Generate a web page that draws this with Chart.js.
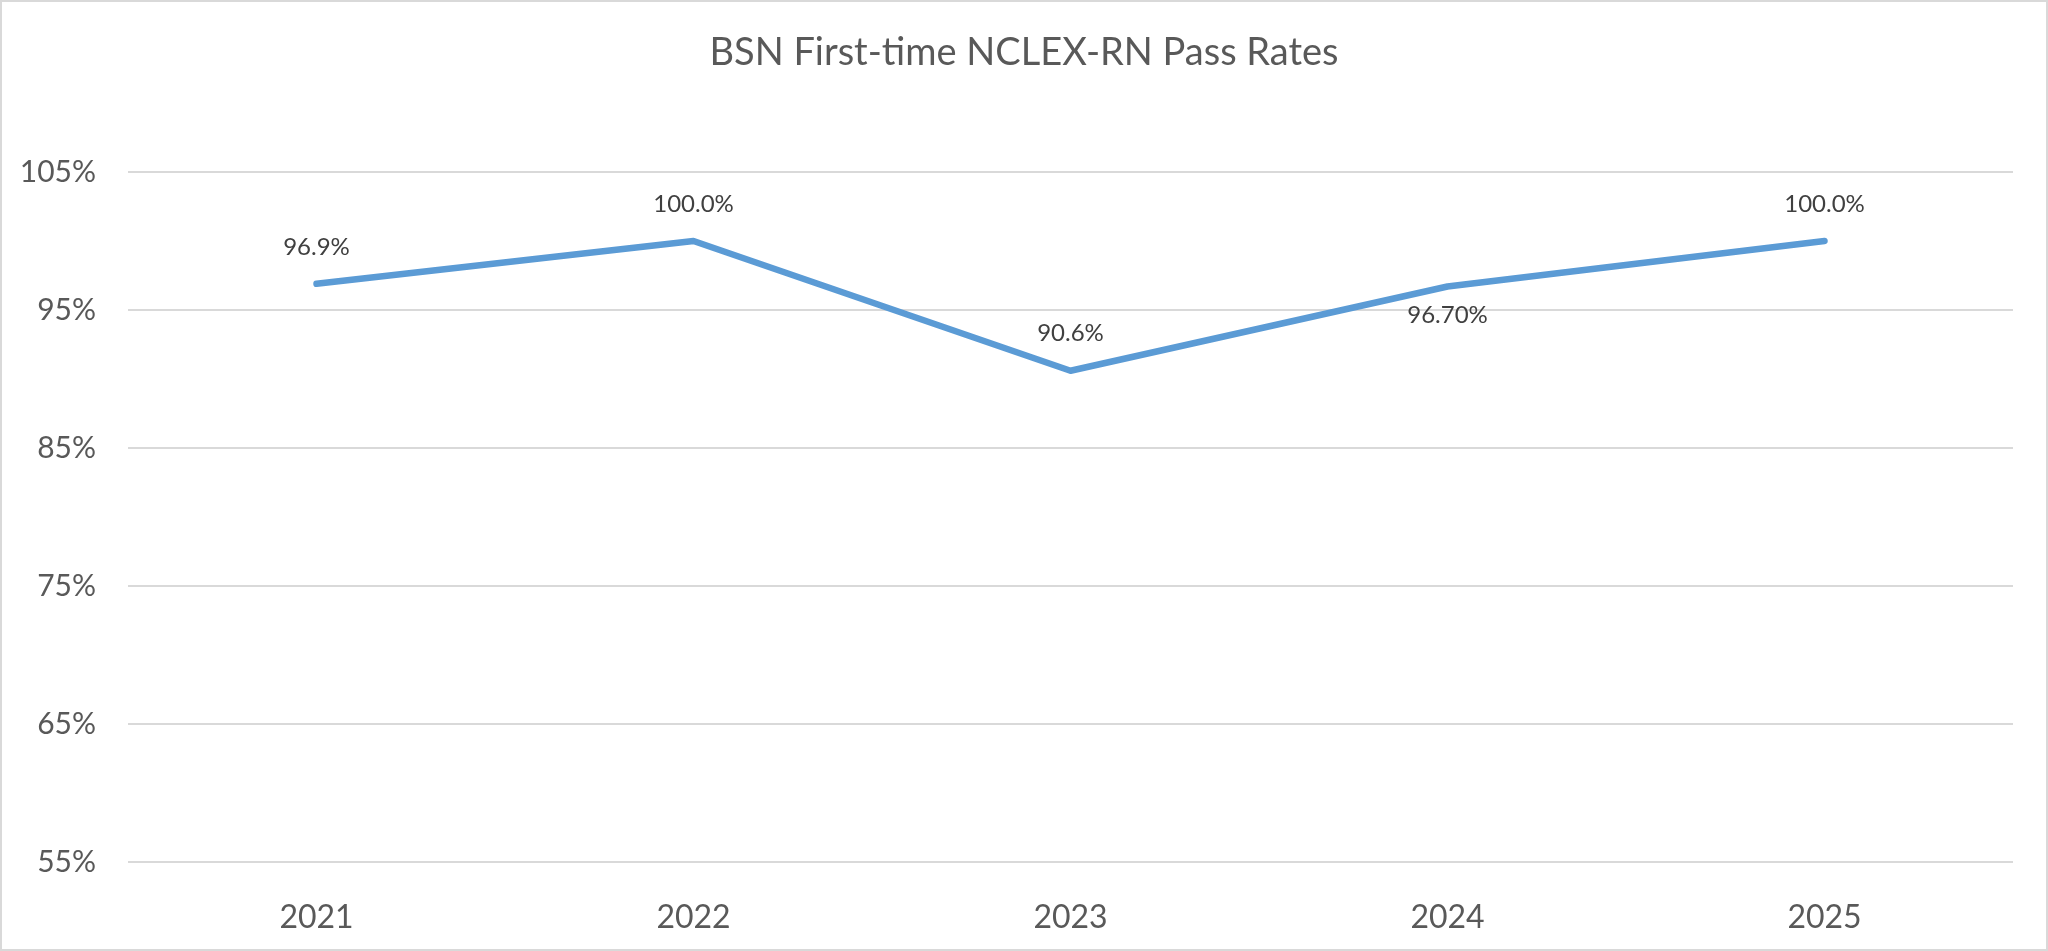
<!DOCTYPE html>
<html>
<head>
<meta charset="utf-8">
<script src="https://cdn.jsdelivr.net/npm/chart.js@4/dist/chart.umd.min.js"></script>
<style>
  html, body { margin: 0; padding: 0; background: #fff; }
  canvas { display: block; }
</style>
</head>
<body>
<canvas id="passChart" width="2048" height="951"></canvas>
<script>
// Chart data
const years = ['2021', '2022', '2023', '2024', '2025'];
const passRates = [96.9, 100.0, 90.6, 96.7, 100.0];
const rateLabels = ['96.9%', '100.0%', '90.6%', '96.70%', '100.0%'];
const labelBelow = [false, false, false, true, false];
const yTicks = [55, 65, 75, 85, 95, 105];
const chartTitle = 'BSN First-time NCLEX-RN Pass Rates';

const FONT = 'Lato, "Open Sans", "Noto Sans", sans-serif';

// White background, thin outer frame and the title centred on the whole canvas
const frame = {
  id: 'frame',
  beforeDraw(chart) {
    const ctx = chart.ctx;
    ctx.save();
    ctx.fillStyle = '#ffffff';
    ctx.fillRect(0, 0, chart.width, chart.height);
    ctx.strokeStyle = '#d9d9d9';
    ctx.lineWidth = 2;
    ctx.strokeRect(1, 1, chart.width - 2, chart.height - 2);
    ctx.font = '38px ' + FONT;
    ctx.fillStyle = '#595959';
    ctx.textAlign = 'center';
    ctx.textBaseline = 'middle';
    ctx.fillText(chartTitle, chart.width / 2, 53);
    ctx.restore();
  }
};

// Value labels next to each point
const valueLabels = {
  id: 'valueLabels',
  afterDatasetsDraw(chart) {
    const ctx = chart.ctx;
    const meta = chart.getDatasetMeta(0);
    ctx.save();
    ctx.font = '24px ' + FONT;
    ctx.fillStyle = '#404040';
    ctx.textAlign = 'center';
    ctx.textBaseline = 'middle';
    meta.data.forEach((pt, i) => {
      const dy = labelBelow[i] ? 29 : -37;
      ctx.fillText(rateLabels[i], pt.x, pt.y + dy);
    });
    ctx.restore();
  }
};

new Chart(document.getElementById('passChart').getContext('2d'), {
  type: 'line',
  data: {
    labels: years,
    datasets: [{
      data: passRates,
      borderColor: '#5b9bd5',
      borderWidth: 6.5,
      borderCapStyle: 'round',
      borderJoinStyle: 'round',
      pointRadius: 0,
      pointHoverRadius: 0,
      tension: 0,
      fill: false
    }]
  },
  options: {
    responsive: false,
    devicePixelRatio: 1,
    animation: false,
    layout: { padding: { left: 0, right: 35, top: 172, bottom: 0 } },
    plugins: {
      legend: { display: false },
      tooltip: { enabled: false },
      title: { display: false }
    },
    scales: {
      x: {
        offset: true,
        grid: { display: false },
        border: { display: false },
        ticks: {
          color: '#595959',
          font: { family: FONT, size: 32 },
          padding: 28,
          maxRotation: 0
        },
        afterFit(scale) { scale.height = 89; }
      },
      y: {
        min: 55,
        max: 105,
        afterBuildTicks(scale) {
          scale.ticks = yTicks.map(v => ({ value: v }));
        },
        grid: { color: '#d9d9d9', lineWidth: 2, drawTicks: false },
        border: { display: false },
        ticks: {
          color: '#595959',
          font: { family: FONT, size: 30 },
          padding: 32,
          callback: (v) => v + '%'
        },
        afterFit(scale) { scale.width = 128; }
      }
    }
  },
  plugins: [frame, valueLabels]
});
</script>
</body>
</html>
